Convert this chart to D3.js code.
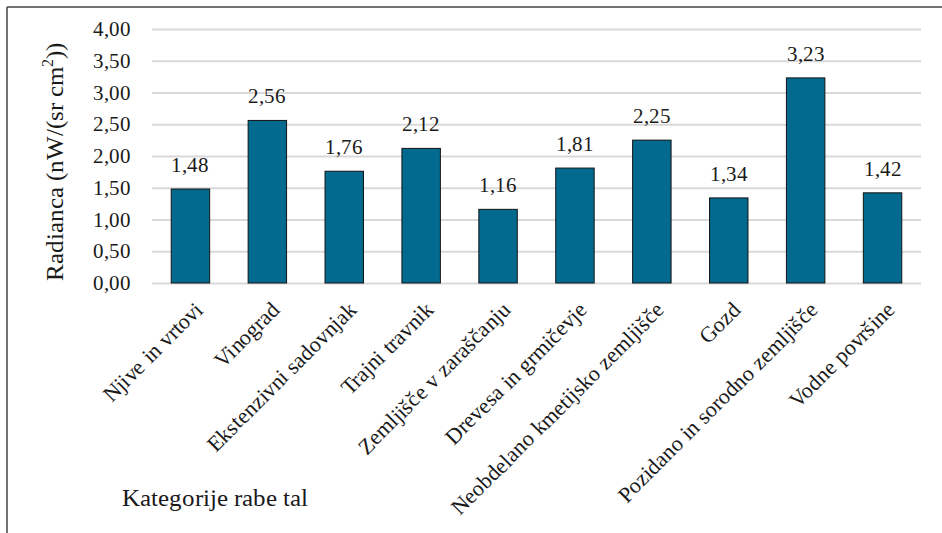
<!DOCTYPE html>
<html>
<head>
<meta charset="utf-8">
<script src="https://cdn.jsdelivr.net/npm/d3@7"></script>
<style>
  @font-face {
    font-family: "ChartSerif";
    src: local("Liberation Serif"), local("LiberationSerif"), local("LiberationSerif-Regular"), local("Tinos"), local("DejaVu Serif");
  }
</style>
</head>
<body style="margin:0">
<svg id="fig" width="942" height="533"></svg>
<script>
// Land-use categories and mean radiance per category
const categories = [
  "Njive in vrtovi",
  "Vinograd",
  "Ekstenzivni sadovnjak",
  "Trajni travnik",
  "Zemljišče v zaraščanju",
  "Drevesa in grmičevje",
  "Neobdelano kmetijsko zemljišče",
  "Gozd",
  "Pozidano in sorodno zemljišče",
  "Vodne površine"
];
const radiance = [1.48, 2.56, 1.76, 2.12, 1.16, 1.81, 2.25, 1.34, 3.23, 1.42];
const yTicks = [0, 0.5, 1, 1.5, 2, 2.5, 3, 3.5, 4];
const yTitle = "Radianca (nW/(sr cm";
const xTitle = "Kategorije rabe tal";

const INK = "#1a1a1a";

// Apply the serif face to a text selection
function serif(sel, size) {
  return sel.style("font-family", '"ChartSerif", "Liberation Serif", serif')
    .attr("font-size", size)
    .attr("fill", INK);
}

const svg = d3.select("#fig");
const W = 942, H = 533;
const plot = { left: 152, right: 921, top: 29, bottom: 283 };

// Frame (top and left edges)
svg.append("line").attr("x1", 7).attr("x2", W).attr("y1", 7).attr("y2", 7)
  .attr("stroke", "#444").attr("stroke-width", 1.5);
svg.append("line").attr("x1", 7).attr("x2", 7).attr("y1", 7).attr("y2", H)
  .attr("stroke", "#444").attr("stroke-width", 1.5);

const fmt = v => d3.format(".2f")(v).replace(".", ",");

const x = d3.scaleBand().domain(categories).range([plot.left, plot.right])
  .paddingInner(0.5).paddingOuter(0.25);
const y = d3.scaleLinear().domain([0, 4]).range([plot.bottom, plot.top]);

// Gridlines and value axis labels
const yAxis = d3.axisLeft(y).tickValues(yTicks).tickFormat(fmt)
  .tickSize(-(plot.right - plot.left)).tickPadding(21);
const gy = svg.append("g").attr("transform", `translate(${plot.left},0)`).call(yAxis)
  .attr("font-family", null).attr("font-size", null);
gy.select(".domain").remove();
gy.selectAll(".tick line").attr("stroke", "#d9d9d9").attr("stroke-width", 2);
serif(gy.selectAll(".tick text"), 21);

// Bars
svg.append("g").selectAll("rect").data(radiance).join("rect")
  .attr("x", (d, i) => x(categories[i]))
  .attr("y", d => y(d))
  .attr("width", x.bandwidth())
  .attr("height", d => y(0) - y(d))
  .attr("fill", "#026a8e")
  .attr("stroke", "#141414")
  .attr("stroke-width", 1);

// Value labels
serif(svg.append("g").selectAll("text").data(radiance).join("text"), 21)
  .attr("x", (d, i) => x(categories[i]) + x.bandwidth() / 2)
  .attr("y", d => y(d) - 17)
  .attr("text-anchor", "middle")
  .text(d => fmt(d));

// Category labels, rotated
const xAxis = d3.axisBottom(x).tickSize(0).tickPadding(0);
const gx = svg.append("g").attr("transform", `translate(0,${plot.bottom})`).call(xAxis)
  .attr("font-family", null).attr("font-size", null);
gx.select(".domain").remove();
serif(gx.selectAll(".tick text"), 22)
  .attr("text-anchor", "end")
  .attr("dy", null)
  .attr("y", null)
  .attr("transform", "translate(2,17) rotate(-45)")
  .attr("dominant-baseline", "hanging");

// Axis titles
const yt = serif(svg.append("text"), 25)
  .attr("transform", `translate(63,${(plot.top + plot.bottom) / 2 + 6}) rotate(-90)`)
  .attr("text-anchor", "middle");
yt.append("tspan").text(yTitle);
yt.append("tspan").attr("font-size", 16).attr("dy", -10).text("2");
yt.append("tspan").attr("dy", 10).text("))");

serif(svg.append("text"), 25)
  .attr("x", 122).attr("y", 506)
  .text(xTitle);
</script>
</body>
</html>
